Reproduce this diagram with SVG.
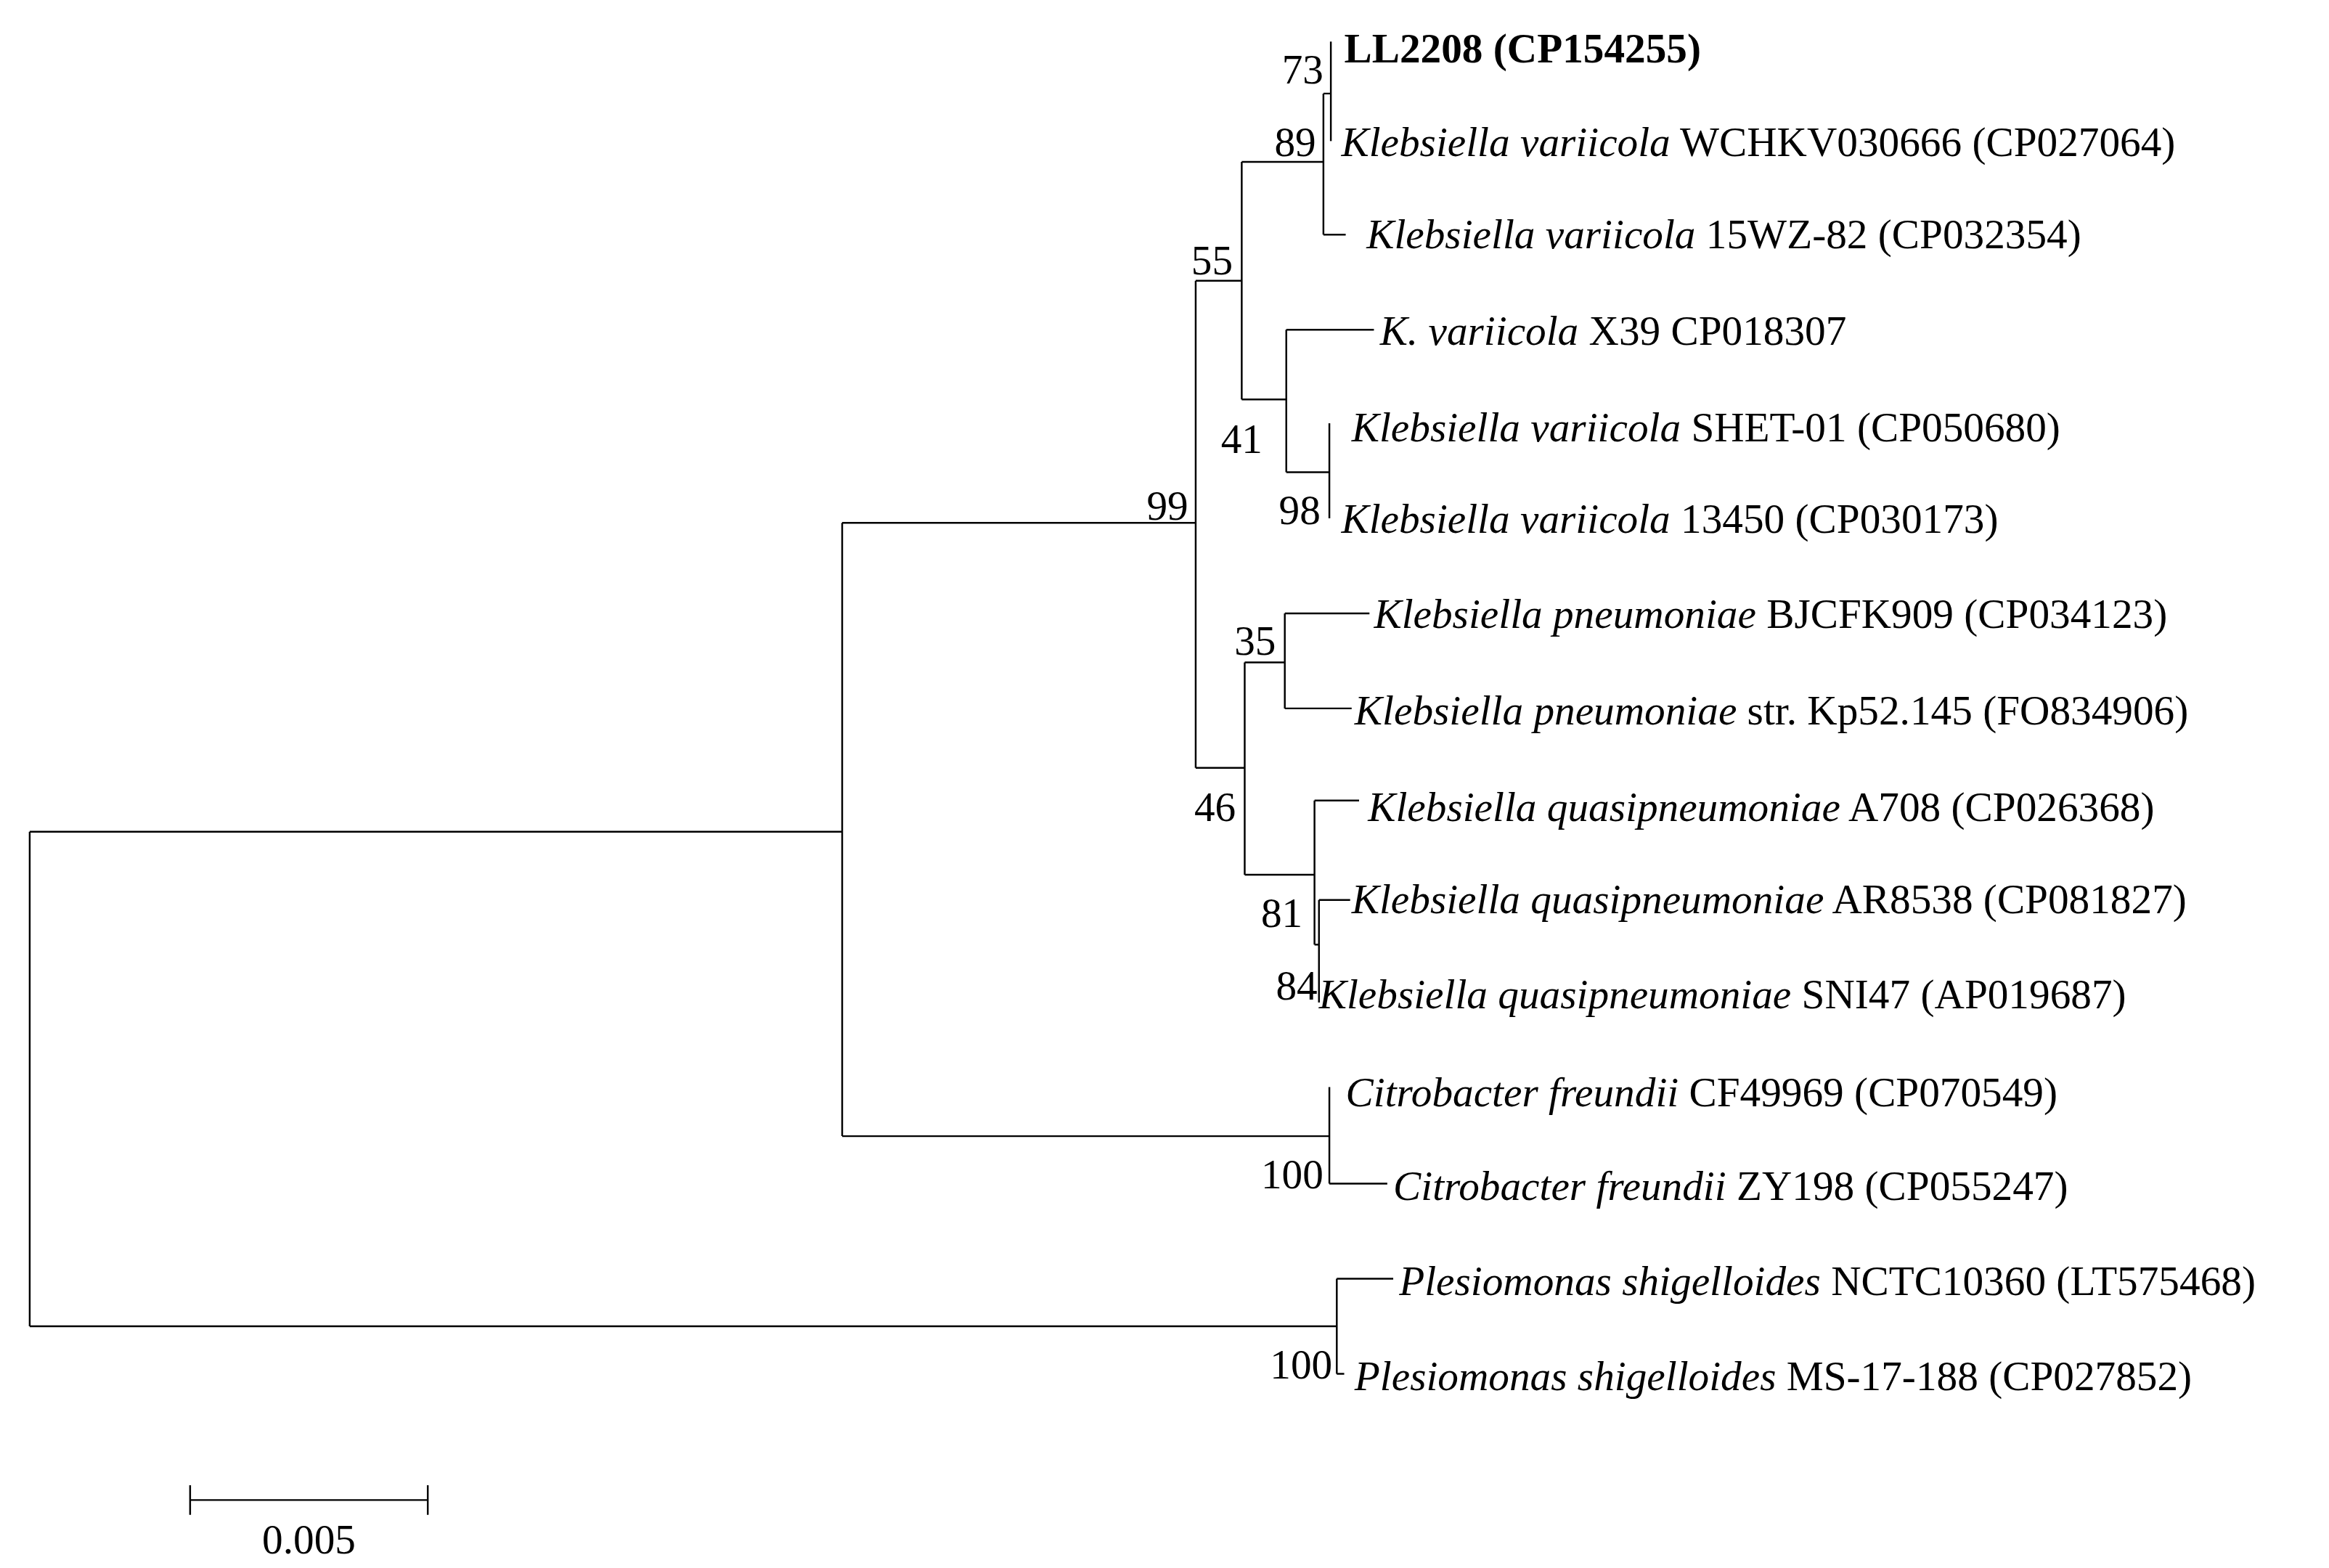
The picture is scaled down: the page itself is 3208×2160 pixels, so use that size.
<svg xmlns="http://www.w3.org/2000/svg" width="3208" height="2160" viewBox="0 0 3208 2160">
<style>
text{font-family:"Liberation Serif","Times New Roman",serif;font-size:28px;fill:#000}
.i{font-style:italic}
.b{text-anchor:end}
#edges path{fill:none;stroke:#000;stroke-width:1.2}
</style>
<rect width="3208" height="2160" fill="#fff"/>
<g transform="scale(2.0459)">
<g id="edges">
<path d="M20,560V893M20,560H567M20,893H900"/>
<path d="M567,352V765M567,352H805M567,765H895"/>
<path d="M805,189V517M805,189H836M805,517H838"/>
<path d="M836,109V269M836,109H891M836,269H866"/>
<path d="M891,63V158M891,158H906M891,63H896"/>
<path d="M896,28V95"/>
<path d="M866,222V318M866,222H925M866,318H895"/>
<path d="M895,285V349"/>
<path d="M838,446V589M838,446H865M838,589H885"/>
<path d="M865,413V477M865,413H922M865,477H910"/>
<path d="M885,539V636M885,539H915M885,636H888"/>
<path d="M888,606V675M888,606H909"/>
<path d="M895,732V797M895,797H934"/>
<path d="M900,861V925M900,861H938M900,925H905"/>
<path d="M128,1010H288M128,1000V1020M288,1000V1020"/>
</g>
<g id="leaves">
<text x="905" y="42" font-weight="bold">LL2208 (CP154255)</text>
<text x="903" y="105"><tspan class="i">Klebsiella variicola</tspan> WCHKV030666  (CP027064)</text>
<text x="920" y="167"><tspan class="i">Klebsiella variicola</tspan> 15WZ-82  (CP032354)</text>
<text x="929" y="232"><tspan class="i">K. variicola</tspan> X39  CP018307</text>
<text x="910" y="297"><tspan class="i">Klebsiella variicola</tspan> SHET-01  (CP050680)</text>
<text x="903" y="359"><tspan class="i">Klebsiella variicola</tspan> 13450  (CP030173)</text>
<text x="925" y="423"><tspan class="i">Klebsiella  pneumoniae</tspan> BJCFK909 (CP034123)</text>
<text x="912" y="488"><tspan class="i">Klebsiella  pneumoniae</tspan> str. Kp52.145  (FO834906)</text>
<text x="921" y="553"><tspan class="i">Klebsiella  quasipneumoniae</tspan>  A708 (CP026368)</text>
<text x="910" y="615"><tspan class="i">Klebsiella  quasipneumoniae</tspan>  AR8538 (CP081827)</text>
<text x="888" y="679"><tspan class="i">Klebsiella  quasipneumoniae</tspan> SNI47 (AP019687)</text>
<text x="906" y="745"><tspan class="i">Citrobacter freundii</tspan> CF49969 (CP070549)</text>
<text x="938" y="808"><tspan class="i">Citrobacter freundii</tspan> ZY198  (CP055247)</text>
<text x="942" y="872"><tspan class="i">Plesiomonas shigelloides</tspan> NCTC10360   (LT575468)</text>
<text x="912" y="936"><tspan class="i">Plesiomonas shigelloides</tspan> MS-17-188  (CP027852)</text>
</g>
<g id="bootstrap">
<text class="b" x="891" y="56">73</text>
<text class="b" x="886" y="105">89</text>
<text class="b" x="830" y="185">55</text>
<text class="b" x="850" y="305">41</text>
<text class="b" x="889" y="353">98</text>
<text class="b" x="800" y="350">99</text>
<text class="b" x="859" y="441">35</text>
<text class="b" x="832" y="553">46</text>
<text class="b" x="877" y="624">81</text>
<text class="b" x="887" y="673">84</text>
<text class="b" x="891" y="800">100</text>
<text class="b" x="897" y="928">100</text>
</g>
<text x="208" y="1046" text-anchor="middle">0.005</text>
</g>
</svg>
